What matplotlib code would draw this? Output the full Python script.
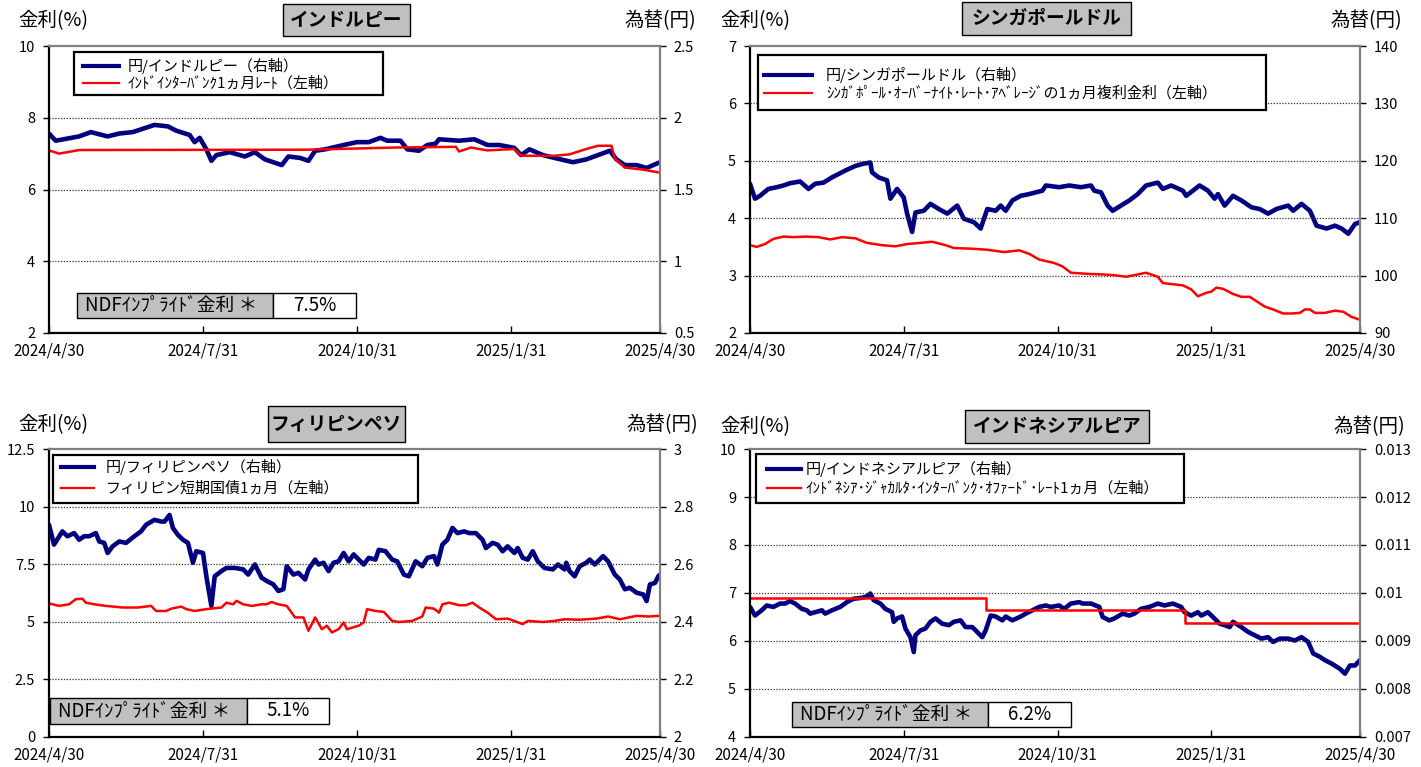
import numpy as np
import matplotlib
matplotlib.use("Agg")
import matplotlib.pyplot as plt
from matplotlib.patches import Rectangle
from matplotlib.lines import Line2D
from matplotlib.ticker import FuncFormatter

plt.rcParams['font.family'] = ['Noto Sans CJK JP', 'DejaVu Sans']

# ---------------- data ----------------
START = np.datetime64('2024-04-30')
END = np.datetime64('2025-04-30')
tick_dates = ['2024-04-30', '2024-07-31', '2024-10-31', '2025-01-31', '2025-04-30']
tick_labels = ['2024/4/30', '2024/7/31', '2024/10/31', '2025/1/31', '2025/4/30']

# India: JPY per INR (right axis), interbank 1M rate % (left axis)
inr_days = [0, 4, 18, 25, 35, 42, 50, 63, 71, 76, 84, 87, 90, 94, 97, 100, 108, 117, 123, 129,
            139, 143, 150, 155, 159, 165, 176, 184, 191, 198, 202, 210, 214, 221, 226, 231, 233, 245, 254, 262,
            269, 278, 282, 287, 295, 302, 313, 321, 328, 335, 339, 344, 351, 357, 365]
inr_jpy = [1.89, 1.84, 1.87, 1.90, 1.87, 1.89, 1.90, 1.95, 1.94, 1.91, 1.88, 1.83, 1.86, 1.78, 1.70, 1.74, 1.76, 1.73, 1.76, 1.71,
           1.67, 1.73, 1.72, 1.70, 1.77, 1.78, 1.81, 1.83, 1.83, 1.86, 1.84, 1.84, 1.78, 1.77, 1.81, 1.82, 1.85, 1.84, 1.85, 1.81,
           1.81, 1.79, 1.74, 1.78, 1.74, 1.72, 1.69, 1.71, 1.74, 1.77, 1.71, 1.67, 1.67, 1.65, 1.69]
inr_rate_days = [0, 6, 18, 155, 207, 243, 245, 252, 262, 278, 282, 302, 311, 321, 328, 336, 338, 344, 354, 365]
inr_rate = [7.09, 7.00, 7.10, 7.11, 7.17, 7.19, 7.06, 7.17, 7.09, 7.13, 6.94, 6.94, 6.98, 7.13, 7.22, 7.22, 6.86, 6.61, 6.56, 6.47]

# Singapore
sgd_days = [0, 3, 6, 11, 16, 20, 24, 30, 35, 39, 44, 49, 57, 63, 68, 72, 73, 77, 82, 84,
            88, 92, 94, 97, 99, 104, 108, 113, 118, 124, 128, 134, 138, 142, 147, 150, 153, 157, 162, 167,
            175, 177, 185, 191, 198, 204, 206, 210, 214, 217, 222, 227, 232, 237, 244, 247, 252, 259, 261, 269,
            274, 278, 280, 284, 289, 294, 300, 305, 310, 315, 322, 325, 330, 335, 339, 345, 350, 354, 358, 362, 365]
sgd_jpy = [116.0, 113.4, 113.9, 115.1, 115.4, 115.7, 116.1, 116.4, 115.1, 116.0, 116.2, 117.1, 118.3, 119.1, 119.5, 119.7, 118.0, 117.1, 116.6, 113.4,
           115.1, 113.6, 110.8, 107.6, 111.0, 111.3, 112.5, 111.6, 110.8, 112.2, 109.9, 109.3, 108.2, 111.6, 111.3, 112.2, 111.3, 113.1, 113.9, 114.2,
           114.8, 115.7, 115.4, 115.7, 115.4, 115.7, 114.8, 114.5, 112.2, 111.3, 112.2, 113.1, 114.2, 115.7, 116.2, 115.1, 115.7, 114.8, 113.9, 115.7,
           114.8, 113.4, 114.2, 112.2, 113.9, 113.1, 111.9, 111.6, 110.8, 111.6, 112.2, 111.3, 112.5, 111.3, 108.7, 108.2, 108.7, 108.2, 107.3, 109.0, 109.3]
sgd_rate_days = [0, 4, 9, 14, 20, 26, 33, 41, 48, 55, 63, 70, 79, 87, 94, 102, 109, 117, 122, 132,
                 142, 152, 161, 167, 173, 182, 187, 192, 202, 211, 217, 225, 232, 237, 244, 247, 259, 264, 268, 273,
                 276, 279, 283, 289, 294, 299, 308, 313, 319, 324, 329, 332, 335, 338, 344, 350, 355, 360, 365]
sgd_rate = [3.53, 3.50, 3.55, 3.64, 3.68, 3.67, 3.68, 3.67, 3.63, 3.67, 3.65, 3.57, 3.53, 3.51, 3.55, 3.57, 3.59, 3.53, 3.48, 3.47,
            3.45, 3.41, 3.44, 3.38, 3.28, 3.22, 3.16, 3.05, 3.03, 3.02, 3.01, 2.98, 3.02, 3.05, 2.98, 2.87, 2.83, 2.76, 2.64, 2.70,
            2.72, 2.79, 2.77, 2.68, 2.63, 2.63, 2.46, 2.41, 2.34, 2.34, 2.35, 2.41, 2.41, 2.35, 2.35, 2.39, 2.37, 2.28, 2.23]

# Philippines
php_days = [0, 3, 8, 11, 15, 18, 21, 24, 28, 30, 33, 35, 38, 42, 46, 51, 55, 58, 63, 67,
            69, 72, 74, 77, 80, 83, 86, 88, 92, 94, 97, 99, 103, 106, 111, 116, 119, 123, 127, 130,
            134, 137, 140, 142, 146, 149, 153, 155, 159, 161, 164, 167, 170, 173, 176, 179, 182, 184, 188, 191,
            195, 197, 201, 205, 208, 212, 215, 219, 223, 226, 230, 232, 235, 238, 241, 244, 248, 251, 255, 259,
            261, 265, 268, 271, 274, 278, 280, 283, 286, 289, 292, 296, 301, 304, 308, 309, 311, 314, 317, 321,
            323, 326, 331, 334, 338, 341, 344, 347, 351, 355, 357, 359, 362, 364, 365]
php_jpy = [2.737, 2.668, 2.714, 2.697, 2.708, 2.685, 2.697, 2.697, 2.708, 2.679, 2.674, 2.639, 2.662, 2.679, 2.674, 2.697, 2.714, 2.737, 2.754, 2.748,
           2.748, 2.771, 2.726, 2.702, 2.685, 2.674, 2.605, 2.645, 2.639, 2.558, 2.455, 2.558, 2.576, 2.587, 2.587, 2.582, 2.564, 2.599, 2.553, 2.542,
           2.530, 2.507, 2.513, 2.593, 2.564, 2.570, 2.547, 2.582, 2.616, 2.599, 2.605, 2.576, 2.605, 2.610, 2.639, 2.610, 2.634, 2.622, 2.599, 2.622,
           2.616, 2.650, 2.645, 2.616, 2.610, 2.564, 2.558, 2.610, 2.593, 2.622, 2.628, 2.599, 2.668, 2.685, 2.726, 2.708, 2.714, 2.708, 2.708, 2.685,
           2.656, 2.674, 2.668, 2.645, 2.662, 2.639, 2.656, 2.622, 2.616, 2.645, 2.610, 2.587, 2.582, 2.599, 2.582, 2.605, 2.576, 2.558, 2.593, 2.605,
           2.616, 2.599, 2.628, 2.610, 2.564, 2.547, 2.513, 2.518, 2.501, 2.495, 2.472, 2.530, 2.535, 2.558, 2.564]
php_rate_days = [0, 6, 12, 16, 20, 22, 27, 34, 44, 53, 61, 64, 70, 73, 79, 82, 87, 94, 103, 106,
                 110, 112, 116, 121, 127, 130, 133, 137, 142, 147, 152, 155, 159, 163, 166, 169, 173, 176, 178, 185,
                 188, 190, 195, 200, 205, 209, 217, 223, 225, 230, 233, 235, 239, 245, 249, 253, 257, 262, 267, 274,
                 283, 286, 295, 302, 308, 317, 327, 334, 341, 351, 358, 365]
php_rate = [5.80, 5.69, 5.76, 5.98, 6.00, 5.83, 5.76, 5.69, 5.62, 5.62, 5.69, 5.47, 5.47, 5.57, 5.66, 5.55, 5.47, 5.55, 5.62, 5.83,
            5.76, 5.91, 5.76, 5.69, 5.76, 5.76, 5.86, 5.76, 5.69, 5.19, 5.19, 4.61, 5.19, 4.68, 4.83, 4.54, 4.68, 4.97, 4.68, 4.83,
            4.97, 5.55, 5.47, 5.43, 5.04, 4.99, 5.04, 5.23, 5.62, 5.57, 5.40, 5.76, 5.83, 5.72, 5.72, 5.83, 5.62, 5.40, 5.11, 5.14,
            4.90, 5.04, 4.99, 5.04, 5.11, 5.09, 5.14, 5.23, 5.11, 5.26, 5.23, 5.26]

# Indonesia
idr_days = [0, 3, 7, 10, 14, 18, 21, 24, 27, 31, 34, 36, 39, 43, 45, 49, 54, 58, 62, 67,
            70, 72, 74, 78, 81, 85, 86, 88, 91, 93, 96, 98, 99, 102, 105, 108, 111, 115, 119, 122,
            126, 129, 133, 137, 139, 141, 144, 147, 151, 153, 157, 162, 165, 169, 173, 177, 180, 185, 188, 192,
            197, 199, 204, 209, 211, 215, 218, 223, 227, 230, 234, 239, 244, 248, 253, 258, 260, 264, 268, 270,
            274, 277, 281, 284, 287, 289, 294, 298, 302, 306, 310, 313, 317, 322, 326, 330, 334, 337, 341, 344,
            348, 353, 356, 359, 362, 365]
idr_jpy = [0.00971, 0.00953, 0.00964, 0.00974, 0.00971, 0.00978, 0.00978, 0.00983, 0.00978, 0.00967,
           0.00964, 0.00957, 0.00960, 0.00964, 0.00957, 0.00964, 0.00971, 0.00981, 0.00988, 0.00990,
           0.00993, 0.00999, 0.00985, 0.00978, 0.00967, 0.00960, 0.00940, 0.00947, 0.00951, 0.00926,
           0.00908, 0.00877, 0.00912, 0.00922, 0.00926, 0.00940, 0.00947, 0.00936, 0.00933, 0.00940,
           0.00943, 0.00929, 0.00929, 0.00915, 0.00908, 0.00922, 0.00953, 0.00951, 0.00943, 0.00951,
           0.00943, 0.00951, 0.00957, 0.00964, 0.00971, 0.00974, 0.00971, 0.00974, 0.00967, 0.00978,
           0.00981, 0.00978, 0.00978, 0.00971, 0.00950, 0.00943, 0.00947, 0.00957, 0.00953, 0.00957,
           0.00967, 0.00971, 0.00978, 0.00974, 0.00978, 0.00971, 0.00960, 0.00953, 0.00960, 0.00953,
           0.00960, 0.00950, 0.00936, 0.00933, 0.00929, 0.00940, 0.00929, 0.00919, 0.00912, 0.00905,
           0.00908, 0.00898, 0.00905, 0.00905, 0.00901, 0.00908, 0.00898, 0.00874, 0.00867, 0.00860,
           0.00853, 0.00842, 0.00832, 0.00849, 0.00849, 0.00860]
idr_rate_days = [0, 141, 260, 365]
idr_rate = [6.90, 6.65, 6.38, 6.38]

# ---------------- layout ----------------
W, H = 1421, 767
fig = plt.figure(figsize=(W / 100, H / 100), dpi=100)
NAVY = '#000080'
GRAYFILL = '#C0C0C0'


def fx(x):
    return x / W


def fy(y):
    return 1 - y / H


def rect(x0, y0, x1, y1, fc, ec='black', lw=1.0, z=5):
    fig.add_artist(Rectangle((fx(x0), fy(y1)), fx(x1) - fx(x0), fy(y0) - fy(y1),
                             transform=fig.transFigure, facecolor=fc, edgecolor=ec, lw=lw, zorder=z))


def ftext(x, y, s, **kw):
    fig.text(fx(x), fy(y), s, zorder=6, **kw)


def to_dates(days):
    return START + np.asarray(days).astype('timedelta64[D]')


fmt_g = FuncFormatter(lambda v, p: f"{v:g}")

panels = [
    dict(box=(49, 46, 660, 333), ylim=(2, 10), yt=[2, 4, 6, 8, 10], y2lim=(0.5, 2.5), y2t=[0.5, 1, 1.5, 2, 2.5],
         fx_d=inr_days, fx_v=inr_jpy, r_d=inr_rate_days, r_v=inr_rate, steps=False,
         title='インドルピー', tbox=(283, 4, 410, 36),
         lab1=(18, 21), lab2=(696, 21),
         leg=(74, 52, 383, 95), leg_y=(66, 83), leg_x=(83, 119, 128),
         leg_t=('円/インドルピー（右軸）', 'ｲﾝﾄﾞｲﾝﾀｰﾊﾞﾝｸ1ヵ月ﾚｰﾄ（左軸）'),
         ndf=(77, 273, 356, 293, 318, '7.5%')),
    dict(box=(750, 46, 1360, 333), ylim=(2, 7), yt=[2, 3, 4, 5, 6, 7], y2lim=(90, 140), y2t=[90, 100, 110, 120, 130, 140],
         fx_d=sgd_days, fx_v=sgd_jpy, r_d=sgd_rate_days, r_v=sgd_rate, steps=False,
         title='シンガポールドル', tbox=(962, 2, 1131, 35),
         lab1=(720, 21), lab2=(1402, 21),
         leg=(758, 55, 1266, 110), leg_y=(75, 93), leg_x=(764, 812, 826),
         leg_t=('円/シンガポールドル（右軸）', 'ｼﾝｶﾞﾎﾟｰﾙ･ｵｰﾊﾞｰﾅｲﾄ･ﾚｰﾄ･ｱﾍﾞﾚｰｼﾞの1ヵ月複利金利（左軸）'),
         ndf=None),
    dict(box=(49, 449, 660, 737), ylim=(0, 12.5), yt=[0, 2.5, 5, 7.5, 10, 12.5], y2lim=(2, 3), y2t=[2, 2.2, 2.4, 2.6, 2.8, 3],
         fx_d=php_days, fx_v=php_jpy, r_d=php_rate_days, r_v=php_rate, steps=False,
         title='フィリピンペソ', tbox=(268, 406, 405, 442),
         lab1=(18, 425), lab2=(698, 425),
         leg=(53, 455, 418, 503), leg_y=(467, 488), leg_x=(61, 94, 106),
         leg_t=('円/フィリピンペソ（右軸）', 'フィリピン短期国債1ヵ月（左軸）'),
         ndf=(50, 247, 329, 698, 724, '5.1%')),
    dict(box=(750, 449, 1360, 737), ylim=(4, 10), yt=[4, 5, 6, 7, 8, 9, 10], y2lim=(0.007, 0.013),
         y2t=[0.007, 0.008, 0.009, 0.010, 0.011, 0.012, 0.013],
         fx_d=idr_days, fx_v=idr_jpy, r_d=idr_rate_days, r_v=idr_rate, steps=True,
         title='インドネシアルピア', tbox=(965, 410, 1149, 443),
         lab1=(720, 427), lab2=(1405, 427),
         leg=(756, 454, 1184, 503), leg_y=(469, 488), leg_x=(767, 801, 806),
         leg_t=('円/インドネシアルピア（右軸）', 'ｲﾝﾄﾞﾈｼｱ･ｼﾞｬｶﾙﾀ･ｲﾝﾀｰﾊﾞﾝｸ･ｵﾌｧｰﾄﾞ･ﾚｰﾄ1ヵ月（左軸）'),
         ndf=(792, 988, 1071, 702, 727, '6.2%')),
]

for p in panels:
    x0, y0, x1, y1 = p['box']
    ax = fig.add_axes([fx(x0), fy(y1), fx(x1) - fx(x0), fy(y0) - fy(y1)])
    ax2 = ax.twinx()
    ax.set_zorder(ax2.get_zorder() + 1)
    ax.patch.set_visible(False)

    ax2.plot(to_dates(p['fx_d']), p['fx_v'], color=NAVY, lw=3.3, solid_joinstyle='round', solid_capstyle='round')
    ax.plot(to_dates(p['r_d']), p['r_v'], color='#FF0000', lw=1.8,
            drawstyle='steps-post' if p['steps'] else 'default')

    ax.set_xlim(START, END)
    ax.set_ylim(*p['ylim'])
    ax2.set_ylim(*p['y2lim'])
    ax.set_yticks(p['yt'])
    ax2.set_yticks(p['y2t'])
    ax.yaxis.set_major_formatter(fmt_g)
    ax2.yaxis.set_major_formatter(fmt_g)
    ax.set_xticks([np.datetime64(d) for d in tick_dates])
    ax.set_xticklabels(tick_labels)

    for t in p['yt'][1:-1]:
        ax.axhline(t, color='#303030', lw=0.9, ls=(0, (1, 1.3)), zorder=0.5)

    ax.tick_params(axis='y', direction='out', length=4, labelsize=10.5, pad=6, width=1)
    ax2.tick_params(axis='y', direction='out', length=4, labelsize=10.5, pad=6, width=1)
    ax.tick_params(axis='x', direction='in', length=5, labelsize=11, pad=7, width=1)

    for s in ['left', 'bottom']:
        ax.spines[s].set_color('black')
        ax.spines[s].set_linewidth(1.6)
    for s in ['top', 'right']:
        ax.spines[s].set_color('#808080')
        ax.spines[s].set_linewidth(1.6)
    for s in ax2.spines.values():
        s.set_visible(False)

    # axis captions
    ftext(p['lab1'][0], p['lab1'][1], '金利(%)', fontsize=14, ha='left', va='center')
    ftext(p['lab2'][0], p['lab2'][1], '為替(円)', fontsize=14, ha='right', va='center')

    # title box
    tx0, ty0, tx1, ty1 = p['tbox']
    rect(tx0, ty0, tx1, ty1, GRAYFILL, ec='black', lw=1.0)
    ftext((tx0 + tx1) / 2, (ty0 + ty1) / 2, p['title'], fontsize=13.5, fontweight='bold', ha='center', va='center')

    # legend
    lx0, ly0, lx1, ly1 = p['leg']
    rect(lx0, ly0, lx1, ly1, 'white', ec='black', lw=1.6)
    la, lb, lt = p['leg_x']
    for yy, col, lw, s in [(p['leg_y'][0], NAVY, 3.0, p['leg_t'][0]), (p['leg_y'][1], '#FF0000', 1.6, p['leg_t'][1])]:
        fig.add_artist(Line2D([fx(la), fx(lb)], [fy(yy), fy(yy)], transform=fig.transFigure, color=col, lw=lw, zorder=6))
        ftext(lt, yy, s, fontsize=10.8, ha='left', va='center')

    # NDF box
    if p['ndf'] is not None:
        nx0, nxm, nx1, ny0, ny1, val = p['ndf']
        rect(nx0, ny0, nxm, ny1, GRAYFILL, ec='black', lw=1.0)
        rect(nxm, ny0, nx1, ny1, 'white', ec='black', lw=1.0)
        ftext(nx0 + 8, (ny0 + ny1) / 2, 'NDFｲﾝﾌﾟﾗｲﾄﾞ金利 ＊', fontsize=13.5, ha='left', va='center')
        ftext((nxm + nx1) / 2, (ny0 + ny1) / 2, val, fontsize=13.5, ha='center', va='center')

fig.savefig('out.png', dpi=100)
